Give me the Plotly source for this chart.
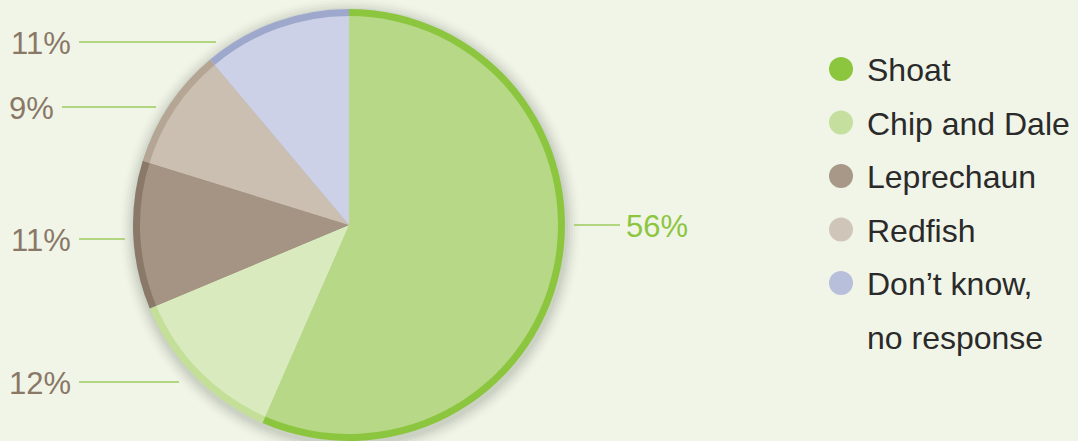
import plotly.graph_objects as go

# ---- data ----
categories = ["Shoat", "Chip and Dale", "Leprechaun", "Redfish", "Don\u2019t know, no response"]
values = [56, 12, 11, 9, 11]
pct_labels = ["56%", "12%", "11%", "9%", "11%"]
legend_lines = ["Shoat", "Chip and Dale", "Leprechaun", "Redfish", "Don\u2019t know,", "no response"]

# ---- styles ----
W, H = 1078, 441
BG = "#f1f5e8"
rim_colors = ["#8cc63f", "#c3df98", "#8a7868", "#b4a594", "#9ea8cc"]
fill_colors = ["#b6d887", "#d9eabf", "#a59484", "#cbbfb1", "#ccd1e7"]
legend_colors = ["#8cc63f", "#c5df9f", "#a89888", "#cfc5b8", "#b8bfda"]
label_color = "#8a7866"
line_color = "#9ccb5c"
FONT = "Liberation Sans, Arial, sans-serif"

cx, cy, R = 349, 225, 216      # pie centre (px from top-left) and radius
rim = 7

def dom(r):
    return dict(x=[(cx - r) / W, (cx + r) / W],
                y=[(H - cy - r) / H, (H - cy + r) / H])

fig = go.Figure()

# soft shadow
shapes = []
for k, a in enumerate([0.06, 0.05, 0.04, 0.03, 0.02, 0.012]):
    rr = R + 2 + 2.5 * k
    shapes.append(dict(type="circle", xref="x", yref="y", layer="below",
                       x0=cx - rr + 1, x1=cx + rr + 1, y0=cy - rr + 3, y1=cy + rr + 3,
                       fillcolor=f"rgba(60,70,50,{a})", line=dict(width=0)))

fig.add_trace(go.Pie(labels=categories, values=values, sort=False, direction="clockwise",
                     rotation=0, textinfo="none", hoverinfo="label+percent",
                     marker=dict(colors=rim_colors, line=dict(width=0)),
                     domain=dom(R), showlegend=False))
fig.add_trace(go.Pie(labels=categories, values=values, sort=False, direction="clockwise",
                     rotation=0, textinfo="none", hoverinfo="skip",
                     marker=dict(colors=fill_colors, line=dict(width=0)),
                     domain=dom(R - rim), showlegend=False))

# ---- outside labels with leader lines (layout positions) ----
# order: Shoat, Chip and Dale, Leprechaun, Redfish, Don't know
lab_y = [225, 382, 239, 107, 42]
lab_side = ["right", "left", "left", "left", "left"]
line_x = [(574, 620), (79, 179), (79, 125), (62, 156), (79, 216)]
text_x = [624, 73, 73, 56, 73]
annotations = []
for i, t in enumerate(pct_labels):
    x0, x1 = line_x[i]
    shapes.append(dict(type="line", xref="x", yref="y", x0=x0, x1=x1, y0=lab_y[i], y1=lab_y[i],
                       line=dict(color=line_color, width=1.3)))
    right = lab_side[i] == "right"
    annotations.append(dict(xref="x", yref="y", x=text_x[i], y=lab_y[i] + 1, text=t,
                            showarrow=False, xanchor="left" if right else "right", yanchor="middle",
                            font=dict(size=31, color=legend_colors[0] if right else label_color,
                                      family=FONT)))

# ---- custom legend ----
leg_x, leg_y0, leg_step = 841, 69, 53.5
mx, my, mc = [], [], []
for i, c in enumerate(legend_colors):
    mx.append(leg_x)
    my.append(leg_y0 + i * leg_step)
    mc.append(c)
fig.add_trace(go.Scatter(x=mx, y=my, mode="markers", hoverinfo="skip", showlegend=False,
                         marker=dict(size=24, color=mc, line=dict(width=0)),
                         xaxis="x", yaxis="y"))
for i, t in enumerate(legend_lines):
    annotations.append(dict(xref="x", yref="y", x=865, y=leg_y0 + i * leg_step + 1, text=t,
                            showarrow=False, xanchor="left", yanchor="middle",
                            font=dict(size=32, color="#2a2a2a", family=FONT)))

fig.update_layout(
    width=W, height=H, margin=dict(l=0, r=0, t=0, b=0),
    paper_bgcolor=BG, plot_bgcolor="rgba(0,0,0,0)",
    xaxis=dict(range=[0, W], visible=False, fixedrange=True),
    yaxis=dict(range=[H, 0], visible=False, fixedrange=True),
    shapes=shapes, annotations=annotations, showlegend=False,
)

fig.write_html("out.html")
